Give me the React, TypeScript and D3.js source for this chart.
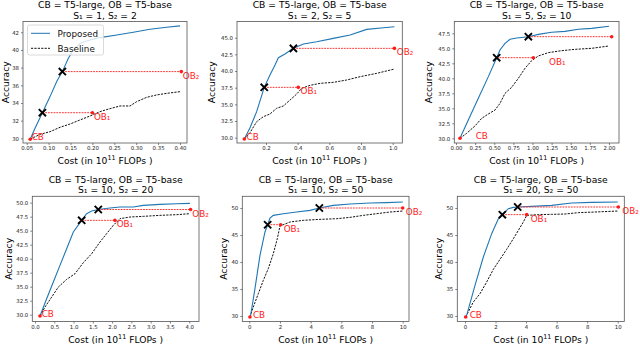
import { useRef, useEffect } from "react";
import * as d3 from "d3";

const WIDTH = 640;
const HEIGHT = 345;
const FONT = "DejaVu Sans";

const titleTop = "CB = T5-large, OB = T5-base";
const panelTitles = [
  "S₁ = 1, S₂ = 2",
  "S₁ = 2, S₂ = 5",
  "S₁ = 5, S₂ = 10",
  "S₁ = 10, S₂ = 20",
  "S₁ = 10, S₂ = 50",
  "S₁ = 20, S₂ = 50",
];
const seriesNames = ["Proposed", "Baseline"];

// ---- panel 1 (S1=1, S2=2)
const p1PropCost = [0.058, 0.069, 0.0858, 0.1033, 0.1185, 0.1314, 0.1451, 0.1565, 0.1718, 0.1946, 0.2174, 0.2555, 0.2935, 0.3316, 0.3696, 0.40];
const p1PropAcc = [29.9, 31.13, 32.9, 34.72, 36.42, 37.55, 39.06, 40.0, 40.76, 41.13, 41.4, 41.7, 42.0, 42.34, 42.57, 42.72];
const p1BaseCost = [0.058, 0.0804, 0.1033, 0.1261, 0.1489, 0.1718, 0.1946, 0.2174, 0.2403, 0.2631, 0.2859, 0.3011, 0.324, 0.3468, 0.3696, 0.40];
const p1BaseAcc = [29.9, 30.45, 30.75, 31.25, 31.62, 32.08, 32.53, 33.02, 33.36, 33.66, 33.66, 34.15, 34.64, 34.91, 35.09, 35.28];
const p1Cb = [0.058, 29.9];
const p1SwitchCost = [0.0858, 0.1314];
const p1SwitchAcc = [32.9, 37.55];
const p1ObCost = [0.2, 0.403];
const p1XTicks = [0.05, 0.1, 0.15, 0.2, 0.25, 0.3, 0.35, 0.4];
const p1YTicks = [30, 32, 34, 36, 38, 40, 42];

// ---- panel 2 (S1=2, S2=5)
const p2PropCost = [0.063, 0.099, 0.141, 0.189, 0.225, 0.257, 0.278, 0.32, 0.373, 0.436, 0.52, 0.625, 0.731, 0.836, 0.941, 1.011];
const p2PropAcc = [29.8, 31.5, 33.9, 37.55, 39.4, 40.9, 42.0, 42.55, 43.4, 44.05, 44.4, 44.9, 45.4, 46.25, 46.5, 46.65];
const p2BaseCost = [0.063, 0.099, 0.141, 0.183, 0.225, 0.267, 0.309, 0.352, 0.394, 0.425, 0.478, 0.541, 0.625, 0.709, 0.794, 0.899, 1.011];
const p2BaseAcc = [29.8, 30.75, 32.4, 33.15, 33.55, 34.4, 34.75, 35.65, 36.55, 37.4, 37.85, 38.15, 38.3, 38.65, 39.15, 39.65, 40.3];
const p2Cb = [0.063, 29.8];
const p2SwitchCost = [0.189, 0.373];
const p2SwitchAcc = [37.55, 43.4];
const p2ObCost = [0.404, 1.011];
const p2XTicks = [0.2, 0.4, 0.6, 0.8, 1.0];
const p2YTicks = [30, 32.5, 35, 37.5, 40, 42.5, 45];

// ---- panel 3 (S1=5, S2=10)
const p3PropCost = [0.052, 0.161, 0.292, 0.423, 0.532, 0.575, 0.641, 0.706, 0.793, 0.946, 1.076, 1.251, 1.425, 1.6, 1.773, 2.0];
const p3PropAcc = [30.0, 33.06, 36.67, 40.28, 43.44, 44.72, 45.83, 46.5, 46.72, 46.94, 47.33, 47.67, 47.83, 48.17, 48.33, 48.67];
const p3BaseCost = [0.052, 0.139, 0.248, 0.336, 0.423, 0.51, 0.575, 0.641, 0.728, 0.815, 0.902, 0.989, 1.076, 1.207, 1.381, 1.556, 1.773, 2.0];
const p3BaseAcc = [30.0, 30.83, 32.06, 33.33, 34.06, 34.72, 35.83, 37.5, 38.5, 40.0, 41.67, 42.94, 43.72, 44.28, 44.61, 44.83, 45.0, 45.39];
const p3Cb = [0.052, 30.0];
const p3SwitchCost = [0.532, 0.946];
const p3SwitchAcc = [43.44, 46.94];
const p3ObCost = [1.011, 2.035];
const p3XTicks = [0, 0.25, 0.5, 0.75, 1.0, 1.25, 1.5, 1.75, 2.0];
const p3YTicks = [30, 32.5, 35, 37.5, 40, 42.5, 45, 47.5];

// ---- panel 4 (S1=10, S2=20)
const p4PropCost = [0.13, 0.302, 0.475, 0.648, 0.821, 0.994, 1.21, 1.339, 1.469, 1.641, 1.944, 2.203, 2.549, 2.808, 3.24, 3.672, 4.017];
const p4PropAcc = [29.76, 32.86, 35.83, 38.81, 41.79, 44.76, 46.85, 48.04, 48.51, 48.78, 49.05, 49.23, 49.23, 49.52, 49.7, 49.82, 49.88];
const p4BaseCost = [0.13, 0.259, 0.432, 0.605, 0.821, 1.037, 1.253, 1.469, 1.685, 1.857, 2.03, 2.203, 2.462, 2.808, 3.24, 3.672, 4.017];
const p4BaseAcc = [29.76, 31.37, 33.15, 34.94, 36.31, 37.32, 39.29, 40.89, 42.98, 44.46, 45.95, 47.14, 47.44, 47.56, 47.74, 47.86, 48.04];
const p4Cb = [0.13, 29.76];
const p4SwitchCost = [1.21, 1.641];
const p4SwitchAcc = [46.85, 48.78];
const p4ObCost = [2.073, 4.035];
const p4XTicks = [0, 0.5, 1.0, 1.5, 2.0, 2.5, 3.0, 3.5, 4.0];
const p4YTicks = [30, 32.5, 35, 37.5, 40, 42.5, 45, 47.5, 50];

// ---- panel 5 (S1=10, S2=50)
const p5PropCost = [0.043, 0.087, 0.37, 0.696, 1.022, 1.196, 1.348, 1.565, 2.217, 3.087, 3.957, 4.565, 5.478, 6.565, 7.87, 8.957, 10.0];
const p5PropAcc = [29.81, 30.12, 35.06, 41.23, 45.56, 46.91, 48.15, 48.64, 48.95, 49.26, 49.57, 50.0, 50.49, 50.74, 50.93, 50.99, 51.11];
const p5BaseCost = [0.043, 0.261, 0.587, 0.913, 1.239, 1.565, 1.826, 2.0, 2.652, 3.522, 4.609, 5.696, 6.565, 7.435, 8.304, 9.174, 10.0];
const p5BaseAcc = [29.81, 31.67, 34.14, 36.6, 38.77, 41.54, 44.32, 46.67, 47.41, 47.72, 47.9, 48.02, 48.27, 48.64, 48.95, 49.26, 49.44];
const p5Cb = [0.043, 29.81];
const p5SwitchCost = [1.196, 4.565];
const p5SwitchAcc = [46.91, 50.0];
const p5ObCost = [2.043, 10.0];
const p5XTicks = [0, 2, 4, 6, 8, 10];
const p5YTicks = [30, 35, 40, 45, 50];

// ---- panel 6 (S1=20, S2=50)
const p6PropCost = [0.044, 0.109, 0.655, 1.2, 1.747, 2.183, 2.445, 2.838, 3.166, 3.45, 4.367, 5.677, 6.987, 8.297, 10.0];
const p6PropAcc = [29.81, 30.12, 35.68, 40.93, 45.25, 48.02, 48.77, 49.88, 50.12, 50.19, 50.31, 50.49, 50.93, 51.05, 51.11];
const p6BaseCost = [0.044, 0.546, 0.983, 1.419, 1.856, 2.293, 2.729, 3.166, 3.493, 3.821, 4.039, 4.803, 5.677, 6.55, 7.424, 8.515, 10.0];
const p6BaseAcc = [29.81, 32.59, 34.14, 36.3, 38.64, 40.49, 42.35, 44.32, 45.86, 47.41, 48.64, 48.77, 48.83, 48.89, 49.14, 49.26, 49.44];
const p6Cb = [0.044, 29.81];
const p6SwitchCost = [2.445, 3.45];
const p6SwitchAcc = [48.77, 50.19];
const p6ObCost = [4.039, 10.04];
const p6XTicks = [0, 2, 4, 6, 8, 10];
const p6YTicks = [30, 35, 40, 45, 50];

const obLabels = ["OB₁", "OB₂"];

// layout of each axes box (pixels) and its visible data range
const panels = [
  { propCost: p1PropCost, propAcc: p1PropAcc, baseCost: p1BaseCost, baseAcc: p1BaseAcc, cb: p1Cb, swCost: p1SwitchCost, swAcc: p1SwitchAcc, obCost: p1ObCost, xTicks: p1XTicks, yTicks: p1YTicks,
    left: 23, right: 187, top: 21.5, bottom: 143, xDom: [0.04155, 0.416], yDom: [29.47, 43.22], xFmt: ".2f", yFmt: "d", yLabelX: 9, labelDx: 1.5, obShown: [true, true], legend: true },
  { propCost: p2PropCost, propAcc: p2PropAcc, baseCost: p2BaseCost, baseAcc: p2BaseAcc, cb: p2Cb, swCost: p2SwitchCost, swAcc: p2SwitchAcc, obCost: p2ObCost, xTicks: p2XTicks, yTicks: p2YTicks,
    left: 237, right: 402.3, top: 21.5, bottom: 143, xDom: [0.0169, 1.0606], yDom: [29.2, 47.43], xFmt: ".1f", yFmt: ".1f", yLabelX: 215, labelDx: 2.3, obShown: [true, true] },
  { propCost: p3PropCost, propAcc: p3PropAcc, baseCost: p3BaseCost, baseAcc: p3BaseAcc, cb: p3Cb, swCost: p3SwitchCost, swAcc: p3SwitchAcc, obCost: p3ObCost, xTicks: p3XTicks, yTicks: p3YTicks,
    left: 454.3, right: 619, top: 21.5, bottom: 143, xDom: [-0.0222, 2.131], yDom: [29.22, 49.47], xFmt: ".2f", yFmt: ".1f", yLabelX: 431.5, labelDx: 15.7, obShown: [true, false] },
  { propCost: p4PropCost, propAcc: p4PropAcc, baseCost: p4BaseCost, baseAcc: p4BaseAcc, cb: p4Cb, swCost: p4SwitchCost, swAcc: p4SwitchAcc, obCost: p4ObCost, xTicks: p4XTicks, yTicks: p4YTicks,
    left: 32.3, right: 199, top: 196.3, bottom: 321.5, xDom: [-0.07, 4.253], yDom: [28.79, 51.14], xFmt: ".1f", yFmt: ".1f", yLabelX: 11.5, labelDx: 1.7, obShown: [true, true] },
  { propCost: p5PropCost, propAcc: p5PropAcc, baseCost: p5BaseCost, baseAcc: p5BaseAcc, cb: p5Cb, swCost: p5SwitchCost, swAcc: p5SwitchAcc, obCost: p5ObCost, xTicks: p5XTicks, yTicks: p5YTicks,
    left: 242.3, right: 409, top: 196.3, bottom: 321.5, xDom: [-0.456, 10.41], yDom: [28.98, 52.17], xFmt: "d", yFmt: "d", yLabelX: 226.5, labelDx: 3, obShown: [true, true] },
  { propCost: p6PropCost, propAcc: p6PropAcc, baseCost: p6BaseCost, baseAcc: p6BaseAcc, cb: p6Cb, swCost: p6SwitchCost, swAcc: p6SwitchAcc, obCost: p6ObCost, xTicks: p6XTicks, yTicks: p6YTicks,
    left: 457.3, right: 624.3, top: 196.3, bottom: 321.5, xDom: [-0.504, 10.43], yDom: [28.98, 52.17], xFmt: "d", yFmt: "d", yLabelX: 441.5, labelDx: 4, obShown: [true, true] },
];

function drawPanel(svg: any, p: any, i: number) {
  const x = d3.scaleLinear().domain(p.xDom).range([p.left, p.right]);
  const y = d3.scaleLinear().domain(p.yDom).range([p.bottom, p.top]);
  const g = svg.append("g").attr("font-family", FONT);

  // ticks
  const styleAxis = (a: any) => {
    a.select(".domain").remove();
    a.attr("font-family", FONT).attr("font-size", 5.4);
    a.selectAll(".tick line").attr("stroke", "#333").attr("stroke-width", 0.6);
    a.selectAll(".tick text").attr("fill", "#222");
  };
  g.append("g")
    .attr("transform", `translate(0,${p.bottom})`)
    .call(d3.axisBottom(x).tickValues(p.xTicks).tickFormat(d3.format(p.xFmt)).tickSize(2).tickPadding(1.6))
    .call(styleAxis);
  g.append("g")
    .attr("transform", `translate(${p.left},0)`)
    .call(d3.axisLeft(y).tickValues(p.yTicks).tickFormat(d3.format(p.yFmt)).tickSize(2).tickPadding(2))
    .call(styleAxis);

  const line = d3
    .line<number>()
    .x((d) => x(d[0]))
    .y((d) => y(d[1]));

  const base = p.baseCost.map((c: number, k: number) => [c, p.baseAcc[k]]);
  const prop = p.propCost.map((c: number, k: number) => [c, p.propAcc[k]]);

  g.append("path")
    .attr("d", line(base))
    .attr("fill", "none")
    .attr("stroke", "#111")
    .attr("stroke-width", 1)
    .attr("stroke-dasharray", "2.2,1.2");
  g.append("path")
    .attr("d", line(prop))
    .attr("fill", "none")
    .attr("stroke", "#1f77b4")
    .attr("stroke-width", 1.1);

  // switch -> offload connectors
  p.swCost.forEach((sc: number, k: number) => {
    g.append("line")
      .attr("x1", x(sc))
      .attr("x2", x(p.obCost[k]))
      .attr("y1", y(p.swAcc[k]))
      .attr("y2", y(p.swAcc[k]))
      .attr("stroke", "#ff3333")
      .attr("stroke-width", 1)
      .attr("stroke-dasharray", "1.8,1");
  });

  const red = "#ff1a1a";
  const dots = [[p.cb[0], p.cb[1]], ...p.obCost.map((c: number, k: number) => [c, p.swAcc[k]])];
  g.selectAll("circle.pt")
    .data(dots)
    .join("circle")
    .attr("cx", (d: number[]) => x(d[0]))
    .attr("cy", (d: number[]) => y(d[1]))
    .attr("r", 1.8)
    .attr("fill", red);

  p.swCost.forEach((sc: number, k: number) => {
    g.append("path")
      .attr("transform", `translate(${x(sc)},${y(p.swAcc[k])})`)
      .attr("d", "M-3.6,-3.6L3.6,3.6M-3.6,3.6L3.6,-3.6")
      .attr("stroke", "#000")
      .attr("stroke-width", 1.9);
  });

  g.append("text")
    .attr("x", x(p.cb[0]) + p.labelDx)
    .attr("y", y(p.cb[1]) + 1)
    .attr("font-size", 8.8)
    .attr("fill", red)
    .text("CB");
  p.obCost.forEach((c: number, k: number) => {
    if (!p.obShown[k]) return;
    g.append("text")
      .attr("x", x(c) + p.labelDx)
      .attr("y", y(p.swAcc[k]) + 7)
      .attr("font-size", 8.8)
      .attr("fill", red)
      .text(obLabels[k]);
  });

  // spines
  g.append("rect")
    .attr("x", p.left)
    .attr("y", p.top)
    .attr("width", p.right - p.left)
    .attr("height", p.bottom - p.top)
    .attr("fill", "none")
    .attr("stroke", "#555")
    .attr("stroke-width", 0.8);

  // titles and labels
  const cx = (p.left + p.right) / 2;
  g.append("text").attr("x", cx).attr("y", p.top - 13.5).attr("text-anchor", "middle").attr("font-size", 9.2).text(titleTop);
  g.append("text").attr("x", cx).attr("y", p.top - 3).attr("text-anchor", "middle").attr("font-size", 9.2).text(panelTitles[i]);

  const xl = g.append("text").attr("x", cx).attr("y", p.bottom + 21).attr("text-anchor", "middle").attr("font-size", 9.2);
  xl.append("tspan").text("Cost (in 10");
  xl.append("tspan").attr("font-size", 6.4).attr("dy", -3.6).text("11");
  xl.append("tspan").attr("dy", 3.6).text(" FLOPs )");

  g.append("text")
    .attr("transform", `translate(${p.yLabelX},${(p.top + p.bottom) / 2}) rotate(-90)`)
    .attr("text-anchor", "middle")
    .attr("font-size", 9.2)
    .text("Accuracy");

  if (p.legend) {
    const lg = g.append("g");
    lg.append("rect")
      .attr("x", p.left + 4.5)
      .attr("y", p.top + 3.5)
      .attr("width", 76)
      .attr("height", 30)
      .attr("rx", 2)
      .attr("fill", "white")
      .attr("fill-opacity", 0.8)
      .attr("stroke", "#d0d0d0")
      .attr("stroke-width", 0.8);
    seriesNames.forEach((name, k) => {
      const yy = p.top + 11.8 + k * 15;
      lg.append("line")
        .attr("x1", p.left + 8)
        .attr("x2", p.left + 27)
        .attr("y1", yy)
        .attr("y2", yy)
        .attr("stroke", k === 0 ? "#1f77b4" : "#111")
        .attr("stroke-width", 1)
        .attr("stroke-dasharray", k === 0 ? null : "2.2,1.2");
      lg.append("text")
        .attr("x", p.left + 34.5)
        .attr("y", yy + 3.2)
        .attr("font-size", 8.8)
        .attr("fill", "#111")
        .text(name);
    });
  }
}

export default function App() {
  const ref = useRef<SVGSVGElement | null>(null);

  useEffect(() => {
    if (!ref.current) return;
    const svg = d3.select(ref.current);
    svg.selectAll("*").remove();
    svg.append("rect").attr("width", WIDTH).attr("height", HEIGHT).attr("fill", "white");
    panels.forEach((p, i) => drawPanel(svg, p, i));
  }, []);

  return (
    <svg
      ref={ref}
      width={WIDTH}
      height={HEIGHT}
      viewBox={`0 0 ${WIDTH} ${HEIGHT}`}
      style={{ position: "absolute", left: 0, top: 0, display: "block" }}
    />
  );
}
